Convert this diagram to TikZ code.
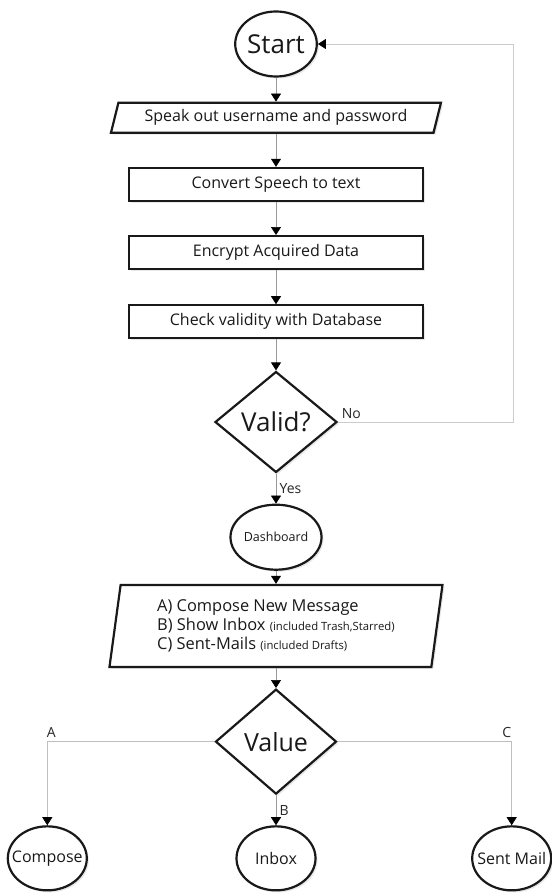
\documentclass[tikz,border=0pt]{standalone}
\usepackage{fontspec}
\setmainfont{Open Sans}
\usetikzlibrary{arrows.meta,positioning,shapes.geometric,shadows}

\begin{document}
\begin{tikzpicture}[x=1pt,y=-1pt,
    base/.style={draw=black!90, line width=2.2pt, fill=white, text=black!90,
      drop shadow={opacity=0.18, shadow xshift=2pt, shadow yshift=-2pt}},
    term/.style={base, ellipse, inner sep=0pt, minimum width=80pt, minimum height=65pt},
    leaf/.style={term, inner xsep=-15pt, minimum width=79pt, minimum height=64pt,
      font=\fontsize{16}{18}\selectfont},
    io/.style={base, trapezium, trapezium stretches body, inner sep=0pt},
    box/.style={base, rectangle, minimum width=294pt, minimum height=33pt,
      font=\fontsize{16}{18}\selectfont},
    decision/.style={base, diamond, inner sep=0pt, minimum width=122pt,
      minimum height=101pt, font=\fontsize{26}{28}\selectfont},
    to/.style={draw=black!40, line width=0.7pt,
      -{Triangle[width=10pt,length=8pt,color=black]}},
    lbl/.style={font=\fontsize{14}{16}\selectfont, text=black!85},
    every node/.style={align=center}]

  \useasboundingbox (0,0) rectangle (551,893);

  \newcommand{\vgap}{33pt}
  \node[term,font=\fontsize{26}{28}\selectfont] (start) at (276,44) {Start};
  \node[io,below=24pt of start, trapezium left angle=65, trapezium right angle=115,
    minimum width=330pt, minimum height=30pt, font=\fontsize{16}{18}\selectfont]
    (speak) {Speak out username and password};
  \node[box,below=\vgap of speak] (conv) {Convert Speech to text};
  \node[box,below=\vgap of conv] (encr) {Encrypt Acquired Data};
  \node[box,below=34pt of encr] (check) {Check validity with Database};
  \node[decision,below=31pt of check] (valid) {Valid?};
  \node[term,below=30pt of valid,font=\fontsize{12.5}{14}\selectfont] (dash) {Dashboard};
  \node[io,below=13pt of dash, trapezium left angle=78, trapezium right angle=102,
    minimum width=333pt, minimum height=82pt, align=left,
    font=\fontsize{16.4}{19}\selectfont] (menu)
    {A) Compose New Message\\
     B) Show Inbox {\fontsize{11.3}{12}\selectfont (included Trash,Starred)}\\
     C) Sent-Mails {\fontsize{11.3}{12}\selectfont (included Drafts)}};
  \node[decision,below=20pt of menu,minimum width=121pt,minimum height=105pt,
    font=\fontsize{25}{27}\selectfont] (value) {Value};
  \node[leaf,below=30pt of value] (inbox) {Inbox};
  \node[leaf,left=147.5pt of inbox] (compose) {Compose};
  \node[leaf,right=154.5pt of inbox] (sent) {Sent Mail};
  \coordinate (loop) at (513,421);

  \path (start.south) edge[to] (speak.north);
  \path (speak.south) edge[to] (conv.north);
  \path (conv.south) edge[to] (encr.north);
  \path (encr.south) edge[to] (check.north);
  \path (check.south) edge[to] (valid.north);
  \path (valid.south) edge[to] node[lbl,right] {Yes} (dash.north);
  \draw[to,draw=black!20] (valid.east) node[lbl,above right] {No}
    -- (valid.east -| loop) |- (start.east);
  \path (dash.south) edge[to] (menu.north);
  \path (menu.south) edge[to] (value.north);
  \path (value.south) edge[to] node[lbl,right] {B} (inbox.north);
  \draw[to,draw=black!25] (value.west) -| node[lbl,above,xshift=4pt] {A} (compose.north);
  \draw[to,draw=black!25] (value.east) -| node[lbl,above,xshift=-5pt] {C} (sent.north);

\end{tikzpicture}
\end{document}
